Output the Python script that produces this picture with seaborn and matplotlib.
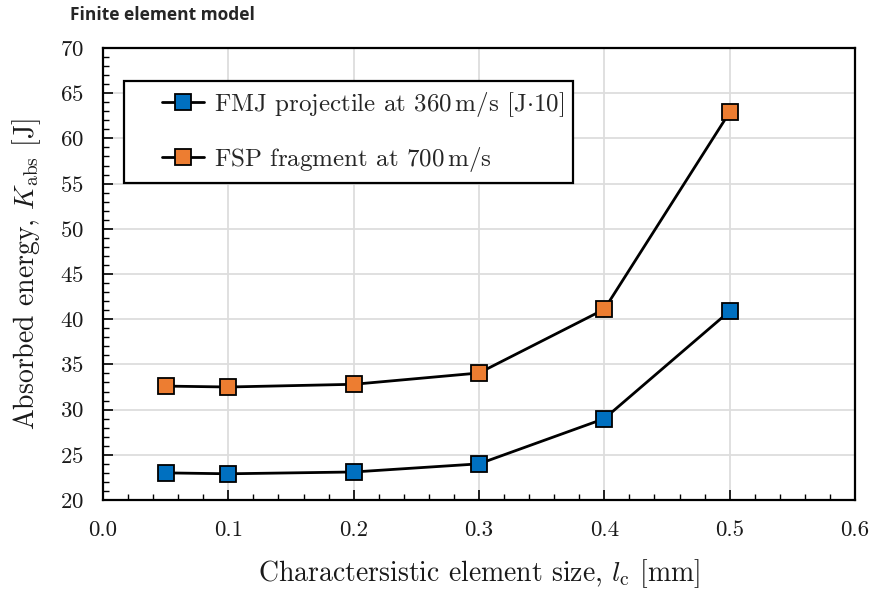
import matplotlib
matplotlib.use("Agg")
import matplotlib.pyplot as plt
import seaborn as sns
import pandas as pd
from matplotlib.ticker import MultipleLocator
from matplotlib.lines import Line2D
from matplotlib.legend_handler import HandlerLine2D

element_size = [0.05, 0.1, 0.2, 0.3, 0.4, 0.5]
fmj_energy = [23.0, 22.9, 23.1, 24.0, 29.0, 40.9]
fsp_energy = [32.6, 32.5, 32.8, 34.05, 41.1, 62.9]
labels = [r"FMJ projectile at $360\,\mathrm{m/s}$ [J$\cdot$10]",
          r"FSP fragment at $700\,\mathrm{m/s}$"]
colors = ["#0070C0", "#ED7D31"]

sns.set_theme(style="whitegrid")
plt.rcParams["font.family"] = ["serif"]
plt.rcParams["font.serif"] = ["cmr10", "DejaVu Serif"]
plt.rcParams["mathtext.fontset"] = "cm"
plt.rcParams["axes.formatter.use_mathtext"] = True

fig = plt.figure(figsize=(8.75, 5.95), dpi=100)
ax = fig.add_axes([103/875, 1-500/595, 752/875, 452/595])

df = pd.DataFrame({"size": element_size, "fmj": fmj_energy, "fsp": fsp_energy})
for col, lab, c in zip(["fmj", "fsp"], labels, colors):
    sns.lineplot(data=df, x="size", y=col, ax=ax, color="black", lw=2,
                 marker="s", markersize=12, markerfacecolor=c,
                 markeredgecolor="black", markeredgewidth=1.3, label=lab)

ax.set_xlim(0, 0.6)
ax.set_ylim(20, 70)
ax.xaxis.set_major_locator(MultipleLocator(0.1))
ax.xaxis.set_minor_locator(MultipleLocator(0.02))
ax.yaxis.set_major_locator(MultipleLocator(5))
ax.yaxis.set_minor_locator(MultipleLocator(1))
ax.set_xticklabels([f"{v:.1f}" for v in ax.get_xticks()])
ax.tick_params(which="both", direction="in", color="black", labelsize=16.5,
               bottom=True, left=True, labelcolor="#1a1a1a")
ax.tick_params(which="major", length=7, width=1.2)
ax.tick_params(which="minor", length=4, width=1.0)
ax.tick_params(axis="x", pad=15)
ax.tick_params(axis="y", pad=14)
ax.grid(True, which="major", color="#dddddd", lw=1.3)
for s in ax.spines.values():
    s.set_color("black")
    s.set_linewidth(1.6)

ax.set_xlabel(r"Charactersistic element size, $l_\mathrm{c}$ [mm]", fontsize=20, labelpad=12, color="#1a1a1a")
ax.set_ylabel(r"Absorbed energy, $K_\mathrm{abs}$ [J]", fontsize=20, labelpad=12, color="#1a1a1a")

leg = ax.legend(loc="upper left", bbox_to_anchor=(0.028, 0.927), fontsize=18,
                frameon=True, fancybox=False, edgecolor="black",
                borderpad=0.35, labelspacing=1.05, handlelength=2.84,
                handletextpad=0.4, borderaxespad=0,
                handler_map={Line2D: HandlerLine2D(xpad=1.16)})
leg.get_frame().set_linewidth(1.6)
leg.get_frame().set_alpha(1)

fig.text(70/875, 1-15/595, "Finite element model", family=["Open Sans"],
         fontweight="bold", fontsize=12.5, ha="left", va="center")

fig.savefig("out.png", dpi=100)
